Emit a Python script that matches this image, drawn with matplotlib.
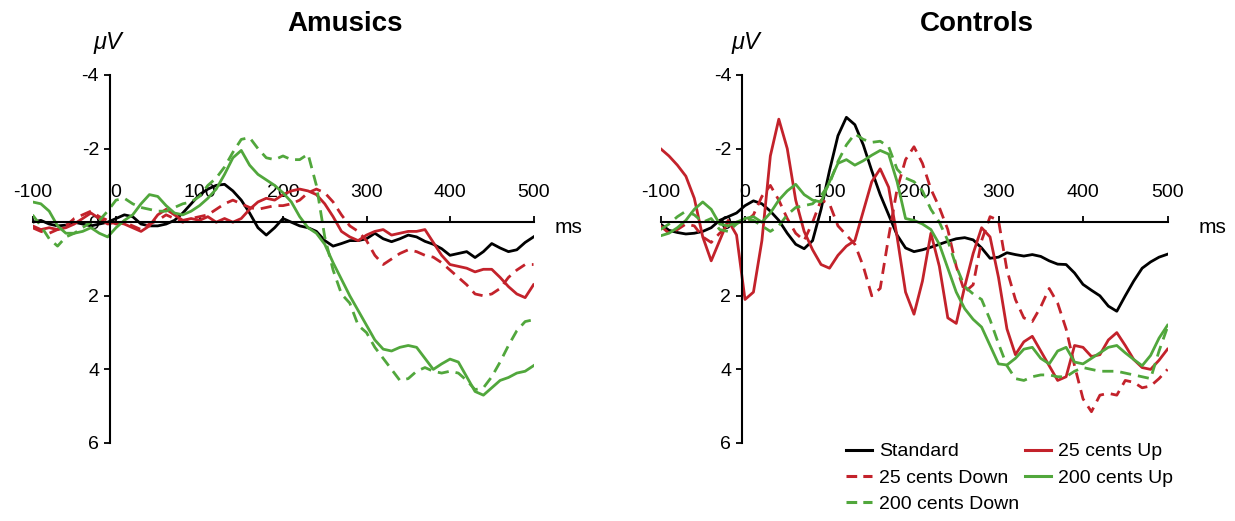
import matplotlib
matplotlib.use("Agg")
import matplotlib.pyplot as plt
from matplotlib.lines import Line2D

plt.rcParams["font.family"] = ["Liberation Sans", "DejaVu Sans"]
plt.rcParams["axes.unicode_minus"] = False

# time axis (ms), one sample every 10 ms
ms = list(range(-100, 501, 10))

# Amusics (µV, negative up)
amusics_standard = [0.0, -0.05, 0.05, 0.1, 0.08, 0.0, 0.05, 0.1, 0.05, 0.0,
                    -0.1, -0.2, -0.15, 0.05, 0.1, 0.1, 0.05, -0.05, -0.25, -0.5,
                    -0.75, -0.9, -1.0, -1.03, -0.85, -0.6, -0.25, 0.15, 0.35, 0.15,
                    -0.1, 0.0, 0.1, 0.15, 0.25, 0.5, 0.65, 0.58, 0.5, 0.5,
                    0.45, 0.3, 0.45, 0.53, 0.45, 0.35, 0.4, 0.52, 0.6, 0.72,
                    0.9, 0.85, 0.8, 0.96, 0.8, 0.58, 0.7, 0.8, 0.75, 0.55,
                    0.4]
amusics_up25 = [0.1, 0.2, 0.15, 0.2, 0.15, 0.05, -0.1, -0.25, -0.1, 0.05,
                0.0, 0.05, 0.15, 0.25, 0.1, -0.2, -0.35, -0.2, -0.05, -0.1,
                -0.05, -0.15, 0.0, -0.1, 0.0, -0.1, -0.35, -0.55, -0.65, -0.6,
                -0.75, -0.85, -0.9, -0.85, -0.75, -0.5, -0.15, 0.25, 0.4, 0.5,
                0.35, 0.25, 0.2, 0.35, 0.3, 0.25, 0.25, 0.2, 0.55, 0.9,
                1.15, 1.2, 1.25, 1.35, 1.28, 1.28, 1.5, 1.75, 1.95, 2.05,
                1.7]
amusics_down25 = [0.15, 0.25, 0.3, 0.2, 0.1, -0.1, -0.2, -0.3, -0.15, -0.05,
                  0.05, 0.0, 0.1, 0.2, 0.05, -0.05, -0.2, -0.1, 0.0, -0.1,
                  -0.15, -0.2, -0.35, -0.5, -0.6, -0.5, -0.4, -0.35, -0.4, -0.45,
                  -0.45, -0.5, -0.6, -0.8, -0.9, -0.8, -0.55, -0.2, 0.1, 0.25,
                  0.5, 0.9, 1.15, 1.0, 0.85, 0.75, 0.8, 0.9, 0.95, 1.1,
                  1.3, 1.5, 1.7, 1.95, 2.0, 1.95, 1.8, 1.5, 1.3, 1.15,
                  1.15]
amusics_up200 = [-0.55, -0.5, -0.3, 0.1, 0.3, 0.3, 0.25, 0.15, 0.3, 0.4,
                 0.15, -0.05, -0.2, -0.5, -0.75, -0.7, -0.45, -0.25, -0.2, -0.3,
                 -0.45, -0.65, -0.9, -1.3, -1.75, -1.95, -1.55, -1.3, -1.15, -1.0,
                 -0.8, -0.55, -0.15, 0.15, 0.3, 0.6, 1.1, 1.55, 2.0, 2.4,
                 2.8, 3.2, 3.45, 3.5, 3.4, 3.35, 3.4, 3.7, 4.0, 3.85,
                 3.72, 3.8, 4.2, 4.6, 4.7, 4.5, 4.3, 4.22, 4.1, 4.05,
                 3.9]
amusics_down200 = [-0.2, 0.1, 0.45, 0.65, 0.4, 0.3, 0.15, 0.0, -0.05, -0.3,
                   -0.6, -0.65, -0.5, -0.4, -0.35, -0.3, -0.3, -0.4, -0.5, -0.55,
                   -0.7, -1.0, -1.2, -1.5, -1.9, -2.25, -2.3, -2.0, -1.75, -1.7,
                   -1.8, -1.7, -1.7, -1.85, -1.0, 0.4, 1.3, 1.95, 2.2, 2.8,
                   3.0, 3.4, 3.7, 4.0, 4.3, 4.25, 4.05, 3.95, 4.05, 4.1,
                   4.05, 4.1, 4.3, 4.55, 4.5, 4.2, 3.8, 3.35, 2.95, 2.7,
                   2.65]

# Controls
controls_standard = [0.05, 0.22, 0.28, 0.32, 0.3, 0.25, 0.15, -0.05, -0.15, -0.25,
                     -0.45, -0.58, -0.5, -0.3, -0.05, 0.3, 0.6, 0.72, 0.5, -0.35,
                     -1.4, -2.35, -2.85, -2.65, -2.1, -1.4, -0.75, -0.2, 0.35, 0.7,
                     0.8, 0.75, 0.68, 0.6, 0.52, 0.45, 0.42, 0.48, 0.7, 0.98,
                     0.95, 0.83, 0.88, 0.92, 0.88, 0.93, 1.05, 1.14, 1.15, 1.38,
                     1.69, 1.85, 2.0, 2.28, 2.42, 2.0, 1.6, 1.25, 1.08, 0.95,
                     0.87]
controls_up25 = [-2.0, -1.8, -1.55, -1.25, -0.65, 0.4, 1.05, 0.5, -0.05, 0.35,
                 2.1, 1.9, 0.5, -1.8, -2.8, -2.0, -0.6, 0.25, 0.75, 1.15,
                 1.25, 0.9, 0.65, 0.5, -0.3, -1.1, -1.45, -0.95, 0.4, 1.9,
                 2.5, 1.6, 0.3, 1.2, 2.6, 2.75, 1.75, 0.85, 0.15, 0.4,
                 1.5, 2.9, 3.6, 3.25, 3.1, 3.5, 3.9, 4.3, 4.2, 3.35,
                 3.4, 3.65, 3.6, 3.2, 3.0, 3.35, 3.73, 3.95, 4.0, 3.75,
                 3.45]
controls_down25 = [0.1, 0.3, 0.2, 0.05, 0.1, 0.4, 0.55, 0.3, 0.1, 0.0,
                   0.0, -0.2, -0.7, -1.0, -0.6, -0.1, 0.3, 0.5, 0.0, -0.6,
                   -0.5, 0.1, 0.35, 0.6, 1.2, 2.0, 1.8, 0.4, -0.9, -1.7,
                   -2.05, -1.6, -0.9, -0.4, 0.2, 1.2, 1.9, 1.7, 0.5, -0.15,
                   -0.05, 1.3, 2.1, 2.6, 2.7, 2.3, 1.8, 2.2, 2.9, 3.9,
                   4.8, 5.15, 4.7, 4.65, 4.7, 4.3, 4.35, 4.5, 4.45, 4.25,
                   4.0]
controls_up200 = [0.37, 0.3, 0.15, -0.05, -0.35, -0.55, -0.35, 0.05, 0.1, 0.0,
                  -0.1, -0.15, 0.0, -0.25, -0.6, -0.85, -1.03, -0.75, -0.6, -0.55,
                  -1.1, -1.6, -1.7, -1.55, -1.67, -1.82, -1.95, -1.85, -1.1, -0.1,
                  -0.05, 0.05, 0.2, 0.6, 1.25, 1.9, 2.35, 2.64, 2.85, 3.35,
                  3.85, 3.88, 3.7, 3.45, 3.4, 3.7, 3.85, 3.5, 3.4, 3.8,
                  3.85, 3.7, 3.55, 3.4, 3.35, 3.55, 3.73, 3.9, 3.62, 3.15,
                  2.8]
controls_down200 = [0.2, 0.05, -0.15, -0.3, -0.2, 0.0, -0.1, 0.2, 0.25, 0.05,
                    -0.1, -0.05, 0.1, 0.25, 0.1, -0.2, -0.4, -0.45, -0.5, -0.72,
                    -1.05, -1.65, -2.1, -2.4, -2.25, -2.17, -2.2, -2.05, -1.44, -1.2,
                    -1.1, -0.85, -0.35, 0.0, 0.5, 1.2, 1.75, 1.95, 2.1, 2.65,
                    3.3, 3.9, 4.25, 4.3, 4.2, 4.15, 4.15, 4.2, 4.2, 4.05,
                    3.95, 4.0, 4.05, 4.05, 4.05, 4.1, 4.15, 4.2, 4.25, 3.5,
                    2.85]

labels = ["Standard", "25 cents Up", "25 cents Down", "200 cents Up", "200 cents Down"]
colors = ["#000000", "#C3222B", "#C3222B", "#51A73C", "#51A73C"]
dashed = [False, False, True, False, True]
x_ticks = [-100, 0, 100, 200, 300, 400, 500]
y_ticks = [-4, -2, 0, 2, 4, 6]

W, H = 1235, 521
fig = plt.figure(figsize=(W / 100, H / 100), dpi=100)


def panel(rect, series, spine_x):
    ax = fig.add_axes(rect)
    for vals, c, d in zip(series, colors, dashed):
        ls = (0, (4, 2.5)) if d else "-"
        ax.plot(ms, vals, color=c, lw=2.0, ls=ls)
    ax.set_xlim(-100, 500)
    ax.set_ylim(6, -4)
    ax.spines["right"].set_visible(False)
    ax.spines["bottom"].set_visible(False)
    ax.spines["top"].set_position(("data", 0))
    ax.spines["left"].set_position(("data", spine_x))
    for s in ("top", "left"):
        ax.spines[s].set_linewidth(1.5)
    ax.xaxis.set_ticks_position("top")
    ax.set_xticks(x_ticks)
    ax.set_yticks(y_ticks)
    ax.tick_params(axis="x", direction="out", length=4, width=1.3, pad=11, labelsize=14)
    ax.tick_params(axis="y", direction="out", length=4, width=1.3, pad=4, labelsize=14)
    ax.patch.set_alpha(0)
    return ax


ax1 = panel([32.5 / W, 78 / H, 501 / W, 368 / H],
            [amusics_standard, amusics_up25, amusics_down25, amusics_up200, amusics_down200], -7)
ax2 = panel([660.5 / W, 78 / H, 507 / W, 368 / H],
            [controls_standard, controls_up25, controls_down25, controls_up200, controls_down200], -3)

fig.text(345 / W, 1 - 24 / H, "Amusics", ha="center", va="center", fontsize=20, fontweight="bold")
fig.text(977 / W, 1 - 24 / H, "Controls", ha="center", va="center", fontsize=20, fontweight="bold")
for x in (108, 746):
    fig.text(x / W, 1 - 42 / H, "μV", ha="center", va="center", fontsize=17, style="italic")
for x in (569, 1212):
    fig.text(x / W, 1 - 228 / H, "ms", ha="center", va="center", fontsize=15)

handles = []
for c, d in zip(colors, dashed):
    handles.append(Line2D([], [], color=c, lw=2.2, ls=(0, (3.5, 2)) if d else "-"))
order = [0, 2, 4, 1, 3]
fig.legend([handles[i] for i in order], [labels[i] for i in order],
           loc="upper left", bbox_to_anchor=(836 / W, 1 - 433 / H), ncol=2,
           frameon=False, fontsize=14, borderpad=0, handlelength=1.35,
           handletextpad=0.35, columnspacing=0.3, labelspacing=0.45)

fig.savefig("out.png", dpi=100)
